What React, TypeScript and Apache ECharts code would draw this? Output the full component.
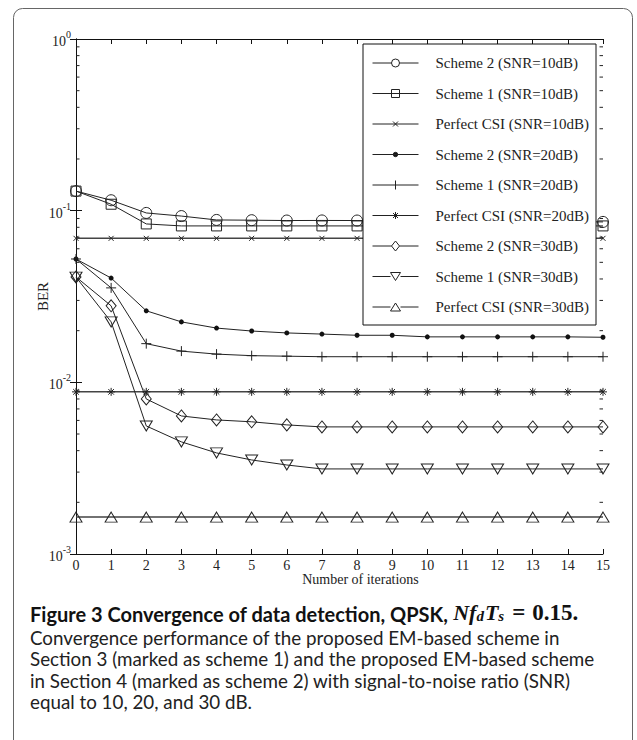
import React, { useEffect, useRef } from 'react';
import * as echarts from 'echarts';

const iterations = [0, 1, 2, 3, 4, 5, 6, 7, 8, 9, 10, 11, 12, 13, 14, 15];

const scheme2Snr10 = [0.13, 0.115, 0.097, 0.093, 0.0883, 0.088, 0.0876, 0.0877, 0.0876, 0.0875, 0.0872, 0.087, 0.0868, 0.0865, 0.0862, 0.086];
const scheme1Snr10 = [0.13, 0.109, 0.0837, 0.0815, 0.0815, 0.0815, 0.0815, 0.0815, 0.0815, 0.0815, 0.0815, 0.0815, 0.0815, 0.0815, 0.0815, 0.0815];
const perfectSnr10 = [0.069, 0.069, 0.069, 0.069, 0.069, 0.069, 0.069, 0.069, 0.069, 0.069, 0.069, 0.069, 0.069, 0.069, 0.069, 0.069];
const scheme2Snr20 = [0.0523, 0.0405, 0.0261, 0.0225, 0.0207, 0.0199, 0.0194, 0.0191, 0.0188, 0.0188, 0.0184, 0.0184, 0.0184, 0.0184, 0.0184, 0.0183];
const scheme1Snr20 = [0.0523, 0.0355, 0.0168, 0.0152, 0.0146, 0.0143, 0.0142, 0.0141, 0.0141, 0.0141, 0.0141, 0.0141, 0.0141, 0.0141, 0.0141, 0.0141];
const perfectSnr20 = [0.0088, 0.0088, 0.0088, 0.0088, 0.0088, 0.0088, 0.0088, 0.0088, 0.0088, 0.0088, 0.0088, 0.0088, 0.0088, 0.0088, 0.0088, 0.0088];
const scheme2Snr30 = [0.0411, 0.0279, 0.008, 0.00637, 0.00604, 0.00589, 0.00565, 0.0055, 0.0055, 0.0055, 0.0055, 0.0055, 0.0055, 0.0055, 0.0055, 0.0055];
const scheme1Snr30 = [0.041, 0.0225, 0.00557, 0.0045, 0.00388, 0.00353, 0.0033, 0.00313, 0.00313, 0.00313, 0.00313, 0.00313, 0.00313, 0.00313, 0.00313, 0.00313];
const perfectSnr30 = [0.00164, 0.00164, 0.00164, 0.00164, 0.00164, 0.00164, 0.00164, 0.00164, 0.00164, 0.00164, 0.00164, 0.00164, 0.00164, 0.00164, 0.00164, 0.00164];

const seriesNames = [
  'Scheme 2 (SNR=10dB)',
  'Scheme 1 (SNR=10dB)',
  'Perfect CSI (SNR=10dB)',
  'Scheme 2 (SNR=20dB)',
  'Scheme 1 (SNR=20dB)',
  'Perfect CSI (SNR=20dB)',
  'Scheme 2 (SNR=30dB)',
  'Scheme 1 (SNR=30dB)',
  'Perfect CSI (SNR=30dB)',
];
const seriesValues = [
  scheme2Snr10, scheme1Snr10, perfectSnr10,
  scheme2Snr20, scheme1Snr20, perfectSnr20,
  scheme2Snr30, scheme1Snr30, perfectSnr30,
];

const yMin = 0.001;
const yMax = 1;
const minorTickValues = [
  0.002, 0.003, 0.004, 0.005, 0.006, 0.007, 0.008, 0.009,
  0.02, 0.03, 0.04, 0.05, 0.06, 0.07, 0.08, 0.09,
  0.2, 0.3, 0.4, 0.5, 0.6, 0.7, 0.8, 0.9,
];

const captionTitle = 'Figure 3 Convergence of data detection, QPSK, ';
const captionLines = [
  'Convergence performance of the proposed EM-based scheme in',
  'Section 3 (marked as scheme 1) and the proposed EM-based scheme',
  'in Section 4 (marked as scheme 2) with signal-to-noise ratio (SNR)',
  'equal to 10, 20, and 30 dB.',
];

const SERIF = '"Liberation Serif", "Times New Roman", serif';
const SANS = 'Lato, "Open Sans", sans-serif';

// marker shapes for plot and for legend icons (legend box 46 x 12)
const BB = 'M0,0M46,12';
const markerStyles: any[] = [
  { symbol: 'circle', symbolSize: 11, fill: 'transparent',
    icon: `path://${BB}M0,6L19,6M27,6L46,6M27,6A4,4 0 1 1 19,6A4,4 0 1 1 27,6Z` },
  { symbol: 'rect', symbolSize: 10, fill: 'transparent',
    icon: `path://${BB}M0,6L46,6M19,2L27,2L27,10L19,10Z` },
  { symbol: 'path://M0,0L10,10M10,0L0,10', symbolSize: 5, fill: 'transparent',
    icon: `path://${BB}M0,6L46,6M20.5,3.5L25.5,8.5M25.5,3.5L20.5,8.5` },
  { symbol: 'circle', symbolSize: 5, fill: '#111',
    icon: `path://${BB}M0,6L46,6M25.2,6A2.2,2.2 0 1 1 20.8,6A2.2,2.2 0 1 1 25.2,6Z` },
  { symbol: 'path://M5,0L5,10M0,5L10,5', symbolSize: 10, fill: 'transparent',
    icon: `path://${BB}M0,6L46,6M23,1.5L23,10.5` },
  { symbol: 'path://M5,0L5,10M0,5L10,5M1.5,1.5L8.5,8.5M8.5,1.5L1.5,8.5', symbolSize: 8, fill: 'transparent',
    icon: `path://${BB}M0,6L46,6M23,2.5L23,9.5M20.5,3.5L25.5,8.5M25.5,3.5L20.5,8.5` },
  { symbol: 'diamond', symbolSize: [10, 12], fill: 'transparent',
    icon: `path://${BB}M0,6L19,6M27,6L46,6M23,1L27,6L23,11L19,6Z` },
  { symbol: 'path://M0,0L12,0L6,10Z', symbolSize: [12, 10], fill: 'transparent',
    icon: `path://${BB}M0,6L18,6M28,6L46,6M18,2L28,2L23,10Z` },
  { symbol: 'triangle', symbolSize: [12, 10], fill: 'transparent',
    icon: `path://${BB}M0,6L18,6M28,6L46,6M18,10L28,10L23,2Z` },
];

export default function App() {
  const ref = useRef<HTMLDivElement>(null);

  useEffect(() => {
    if (!ref.current) return;
    const chart = echarts.init(ref.current, null, { renderer: 'svg' });

    const lineSeries = seriesNames.map((name, i) => {
      const m = markerStyles[i];
      const isPerfect = name.startsWith('Perfect');
      return {
        name,
        type: 'line',
        xAxisIndex: 0,
        yAxisIndex: 0,
        data: iterations.map((x, k) => [x, seriesValues[i][k]]),
        symbol: m.symbol,
        symbolSize: m.symbolSize,
        showAllSymbol: true,
        lineStyle: { color: isPerfect ? '#444' : '#222', width: isPerfect ? 1.5 : 1 },
        itemStyle: {
          color: m.fill,
          borderColor: '#222',
          borderWidth: m.fill === 'transparent' ? 1 : 0,
        },
        emphasis: { disabled: true },
        z: 2,
      };
    });

    const minorTicks = {
      type: 'custom',
      xAxisIndex: 0,
      yAxisIndex: 0,
      silent: true,
      z: 3,
      data: minorTickValues.map((v) => [0, v]),
      renderItem: (params: any, api: any) => {
        const p = api.coord([0, api.value(1)]);
        const cs = params.coordSys;
        const st = { stroke: '#222', lineWidth: 1 };
        return {
          type: 'group',
          children: [
            { type: 'line', shape: { x1: cs.x, y1: p[1], x2: cs.x + 3.5, y2: p[1] }, style: st },
            { type: 'line', shape: { x1: cs.x + cs.width, y1: p[1], x2: cs.x + cs.width - 3.5, y2: p[1] }, style: st },
          ],
        };
      },
    };

    const yLabelFormatter = (v: number) => {
      const e = Math.round(Math.log10(v));
      return `{a|10}{b|${e}}`;
    };

    const option: any = {
      animation: false,
      backgroundColor: '#fff',
      grid: { left: 76, top: 39, right: 34, bottom: 186 },
      xAxis: [
        {
          type: 'value',
          min: 0,
          max: 15,
          interval: 1,
          position: 'bottom',
          axisLine: { lineStyle: { color: '#111', width: 1 } },
          axisTick: { inside: true, length: 5, lineStyle: { color: '#111' } },
          axisLabel: { margin: 4, fontFamily: SERIF, fontSize: 14, color: '#222' },
          splitLine: { show: false },
          name: 'Number of iterations',
          nameLocation: 'middle',
          nameGap: 18,
          nameMoveOverlap: false,
          nameTextStyle: { fontFamily: SERIF, fontSize: 14, color: '#222', padding: [0, 0, 0, 42] },
        },
        {
          type: 'value',
          min: 0,
          max: 15,
          interval: 1,
          position: 'top',
          axisLine: { lineStyle: { color: '#111', width: 1 } },
          axisTick: { inside: true, length: 5, lineStyle: { color: '#111' } },
          axisLabel: { show: false },
          splitLine: { show: false },
        },
      ],
      yAxis: [
        {
          type: 'log',
          logBase: 10,
          min: yMin,
          max: yMax,
          position: 'left',
          axisLine: { show: true, lineStyle: { color: '#111', width: 1 } },
          axisTick: { show: true, inside: true, length: 6, lineStyle: { color: '#111' } },
          axisLabel: {
            margin: 5,
            formatter: yLabelFormatter,
            rich: {
              a: { fontFamily: SERIF, fontSize: 14, color: '#222', verticalAlign: 'bottom' },
              b: { fontFamily: SERIF, fontSize: 10, color: '#222', verticalAlign: 'bottom', padding: [0, 0, 9, 0] },
            },
          },
          splitLine: { show: false },
          name: 'BER',
          nameLocation: 'middle',
          nameGap: 26,
          nameMoveOverlap: false,
          nameTextStyle: { fontFamily: SERIF, fontSize: 15, color: '#222' },
        },
        {
          type: 'log',
          logBase: 10,
          min: yMin,
          max: yMax,
          position: 'right',
          axisLine: { show: true, lineStyle: { color: '#111', width: 1 } },
          axisTick: { show: true, inside: true, length: 6, lineStyle: { color: '#111' } },
          axisLabel: { show: false },
          splitLine: { show: false },
        },
      ],
      legend: {
        data: seriesNames.map((name, i) => ({ name, icon: markerStyles[i].icon })),
        orient: 'vertical',
        left: 372,
        top: 55,
        padding: 0,
        itemWidth: 46,
        itemHeight: 12,
        itemGap: 14.5,
        selectedMode: false,
        symbolKeepAspect: true,
        itemStyle: { borderWidth: 1, borderColor: '#222' },
        textStyle: { fontFamily: SERIF, fontSize: 15, color: '#222', lineHeight: 16, padding: [0, 0, 0, 12] },
        z: 5,
      },
      graphic: [
        {
          type: 'rect',
          z: 4,
          shape: { x: 363, y: 44, width: 233, height: 281 },
          style: { fill: '#fff', stroke: '#111', lineWidth: 1 },
        },
        {
          type: 'rect',
          z: 0,
          silent: true,
          shape: { x: 13.5, y: 8.5, width: 619, height: 780, r: 9 },
          style: { fill: 'none', stroke: '#666', lineWidth: 1 },
        },
        {
          type: 'text',
          x: 30,
          y: 611,
          style: {
            text: `{t|${captionTitle}}{m|Nf}{s|d}{m|T}{s|s}{q|=}{e|0.15.}`,
            verticalAlign: 'middle',
            rich: {
              t: { fontFamily: SANS, fontWeight: 'bold', fontSize: 20, fill: '#111', verticalAlign: 'bottom', lineHeight: 24 },
              m: { fontFamily: SERIF, fontWeight: 'bold', fontStyle: 'italic', fontSize: 22, fill: '#111', verticalAlign: 'bottom', lineHeight: 24 },
              s: { fontFamily: SERIF, fontWeight: 'bold', fontStyle: 'italic', fontSize: 15, fill: '#111', verticalAlign: 'top', padding: [10, 1, 0, 0] },
              q: { fontFamily: SERIF, fontWeight: 'bold', fontSize: 23, fill: '#111', verticalAlign: 'bottom', lineHeight: 24, padding: [0, 7, 0, 7] },
              e: { fontFamily: SERIF, fontWeight: 'bold', fontSize: 23, fill: '#111', verticalAlign: 'bottom', lineHeight: 24 },
            },
          },
        },
        ...captionLines.map((line, i) => ({
          type: 'text',
          x: 30,
          y: 637 + i * 21.5,
          style: { text: line, fontFamily: SANS, fontSize: 18.8, lineHeight: 19, fill: '#222', verticalAlign: 'middle' },
        })),
      ],
      series: [...lineSeries, minorTicks],
    };

    chart.setOption(option);
    return () => chart.dispose();
  }, []);

  return (
    <div
      ref={ref}
      style={{ position: 'absolute', left: 0, top: 0, width: 637, height: 740, background: '#fff' }}
    />
  );
}
